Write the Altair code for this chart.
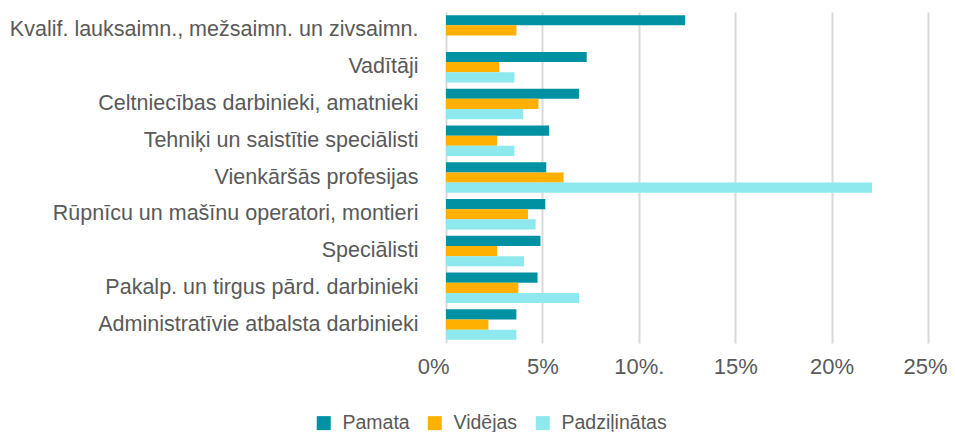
import altair as alt
import pandas as pd

categories = [
    "Kvalif. lauksaimn., mežsaimn. un zivsaimn.",
    "Vadītāji",
    "Celtniecības darbinieki, amatnieki",
    "Tehniķi un saistītie speciālisti",
    "Vienkāršās profesijas",
    "Rūpnīcu un mašīnu operatori, montieri",
    "Speciālisti",
    "Pakalp. un tirgus pārd. darbinieki",
    "Administratīvie atbalsta darbinieki",
]
series = ["Pamata", "Vidējas", "Padziļinātas"]
pamata = [12.4, 7.3, 6.9, 5.35, 5.2, 5.15, 4.9, 4.75, 3.65]
videjas = [3.65, 2.75, 4.8, 2.65, 6.1, 4.25, 2.65, 3.75, 2.2]
padzilinatas = [0.0, 3.55, 4.0, 3.55, 22.1, 4.65, 4.05, 6.9, 3.65]
colors = ["#0092A3", "#FFB000", "#8EE9EE"]
tick_values = [0, 5, 10, 15, 20, 25]
tick_labels = ["0%", "5%", "10%.", "15%", "20%", "25%"]

rows = []
for cat, a, b, c in zip(categories, pamata, videjas, padzilinatas):
    for s, v in zip(series, (a, b, c)):
        rows.append({"cat": cat, "series": s, "value": v})
df = pd.DataFrame(rows)

label_expr = " : ".join(
    f"datum.value == {v} ? '{l}'" for v, l in zip(tick_values, tick_labels)
) + " : ''"

FONT = "Liberation Sans"
GREY = "#595959"

chart = alt.Chart(df).mark_bar().encode(
    y=alt.Y("cat:N", sort=categories, title=None,
            scale=alt.Scale(paddingInner=0.17, paddingOuter=0.085),
            axis=alt.Axis(ticks=False, domain=False, labelPadding=28,
                          labelFontSize=21.5, labelColor=GREY, labelFont=FONT,
                          labelLimit=500)),
    yOffset=alt.YOffset("series:N", sort=series, scale=alt.Scale(paddingInner=0, paddingOuter=0)),
    x=alt.X("value:Q", title=None, scale=alt.Scale(domain=[0, 25], nice=False),
            axis=alt.Axis(values=tick_values, labelExpr=label_expr, ticks=False,
                          domain=False, grid=True, gridColor="#D9D9D9", gridWidth=2,
                          labelFontSize=22, labelColor=GREY, labelFont=FONT,
                          labelPadding=13, labelFlush=False,
                          labelOffset={"condition": [
                              {"test": "datum.value == 0", "value": 3},
                              {"test": "datum.value == 25", "value": -3}],
                              "value": 0},
                          labelAlign={"condition": {"test": "datum.value == 0", "value": "right"}, "value": "center"})),
    color=alt.Color("series:N", sort=series,
                    scale=alt.Scale(domain=series, range=colors),
                    legend=alt.Legend(title=None, orient="none", direction="horizontal",
                                      legendX=-132, legendY=401,
                                      symbolType="square", symbolSize=196,
                                      symbolStrokeWidth=0,
                                      labelFontSize=19.5, labelColor=GREY, labelFont=FONT,
                                      columnPadding=15, labelOffset=9)),
).properties(
    width=482, height=331,
    autosize=alt.AutoSizeParams(type="none"),
    padding={"left": 438, "top": 4, "right": 19, "bottom": 89},
).configure_view(stroke=None)

chart.save("out.html", embed_options={"renderer": "svg", "actions": False})
